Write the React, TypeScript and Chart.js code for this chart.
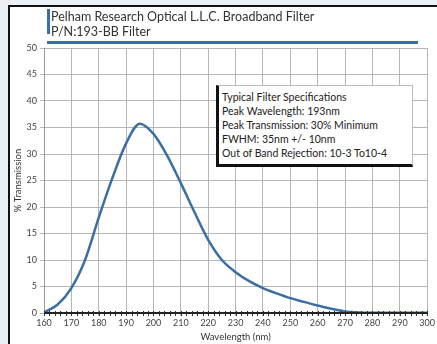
import React, { useEffect, useRef } from "react";
import { Chart, registerables } from "chart.js";
Chart.register(...registerables);

const wavelengths = [160, 165, 170, 175, 180, 185, 190, 195, 200, 205, 210, 215, 220, 225, 230, 235, 240, 245, 250, 255, 260, 265, 270, 275, 280, 285, 290, 295, 300];
const transmission = [0.1, 1.6, 4.7, 10.0, 18.0, 25.5, 32.0, 35.7, 33.8, 29.7, 24.5, 19.0, 13.8, 10.0, 7.7, 6.0, 4.7, 3.7, 2.8, 2.1, 1.4, 0.8, 0.3, 0.1, 0.05, 0.05, 0.05, 0.05, 0.05];

const titleLines = ["Pelham Research Optical L.L.C. Broadband Filter", "P/N:193-BB Filter"];
const specLines = [
  "Typical Filter Specifications",
  "Peak Wavelength: 193nm",
  "Peak Transmission: 30% Minimum",
  "FWHM: 35nm +/- 10nm",
  "Out of Band Rejection: 10-3 To10-4",
];
const xTitle = "Wavelength (nm)";
const yTitle = "% Transmission";

const FONT = "Lato, 'DejaVu Sans', sans-serif";
const LINE = "#3b6ea5";

const minorTicks = {
  id: "minorTicks",
  afterDraw(chart: any) {
    const { ctx, scales, chartArea } = chart;
    const x = scales.x;
    ctx.save();
    ctx.strokeStyle = "#333";
    ctx.lineWidth = 1;
    for (let v = 160; v <= 300; v += 2) {
      const px = Math.round(x.getPixelForValue(v)) + 0.5;
      ctx.beginPath();
      ctx.moveTo(px, chartArea.bottom - 2);
      ctx.lineTo(px, chartArea.bottom + 3);
      ctx.stroke();
    }
    ctx.strokeStyle = "#222";
    ctx.lineWidth = 2;
    ctx.beginPath();
    ctx.moveTo(chartArea.left, chartArea.bottom);
    ctx.lineTo(chartArea.right, chartArea.bottom);
    ctx.stroke();
    ctx.restore();
  },
};

export default function App() {
  const ref = useRef<HTMLCanvasElement>(null);
  useEffect(() => {
    if (!ref.current) return;
    const chart = new Chart(ref.current, {
      type: "line",
      data: {
        datasets: [
          {
            data: wavelengths.map((w, i) => ({ x: w, y: transmission[i] })),
            borderColor: LINE,
            borderWidth: 2.5,
            pointRadius: 0,
            tension: 0.4,
            cubicInterpolationMode: "monotone",
            fill: false,
          },
        ],
      },
      options: {
        animation: false,
        responsive: false,
        maintainAspectRatio: false,
        layout: { padding: { left: 8, right: 9, top: 48, bottom: 0 } },
        plugins: { legend: { display: false }, tooltip: { enabled: false } },
        scales: {
          x: {
            type: "linear",
            min: 160,
            max: 300,
            ticks: { stepSize: 10, color: "#444", font: { family: FONT, size: 9 }, padding: 2, maxRotation: 0 },
            grid: { color: "#b5b5b5", lineWidth: 1, tickLength: 3 },
            border: { color: "#999", width: 1 },
            title: { display: true, text: xTitle, color: "#333", font: { family: FONT, size: 9.5 }, padding: { top: 0, bottom: 1 } },
            afterFit(s: any) { s.height = 31; },
          },
          y: {
            min: 0,
            max: 50,
            ticks: { stepSize: 5, color: "#444", font: { family: FONT, size: 9 }, padding: 3 },
            grid: { color: "#b5b5b5", lineWidth: 1, tickLength: 4 },
            border: { color: "#999", width: 1 },
            title: { display: true, text: yTitle, color: "#333", font: { family: FONT, size: 9.5 }, padding: { top: 4, bottom: 0 } },
            afterFit(s: any) { s.width = 36; },
          },
        },
      },
      plugins: [minorTicks],
    } as any);
    return () => chart.destroy();
  }, []);

  return (
    <div style={{ position: "absolute", left: 0, top: 0, width: 437, height: 344, background: "#eef1f4", overflow: "hidden" }}>
      <div style={{ position: "absolute", left: 8, top: 5, width: 440, height: 350, background: "#fff", borderLeft: "2px solid #111", borderTop: "2px solid #111" }} />
      <canvas ref={ref} width={437} height={344} style={{ position: "absolute", left: 0, top: 0 }} />
      <div style={{ position: "absolute", left: 47, top: 9, width: 3, height: 25, background: LINE }} />
      <div style={{ position: "absolute", left: 47, top: 41, width: 371, height: 3, background: LINE }} />
      <div style={{ position: "absolute", left: 51, top: 9, fontFamily: FONT, fontSize: 12.5, color: "#333", lineHeight: "15px" }}>
        {titleLines.map((t) => (<div key={t}>{t}</div>))}
      </div>
      <div style={{ position: "absolute", left: 216, top: 85, width: 197, height: 82, background: "#fff", borderLeft: "3px solid #111", borderBottom: "3px solid #111", borderTop: "1px solid #bbb", borderRight: "1px solid #bbb", fontFamily: FONT, fontSize: 10.5, color: "#222", lineHeight: "14px", padding: "4px 0 0 3px", boxSizing: "border-box" }}>
        {specLines.map((t) => (<div key={t} style={{ whiteSpace: "nowrap" }}>{t}</div>))}
      </div>
    </div>
  );
}
